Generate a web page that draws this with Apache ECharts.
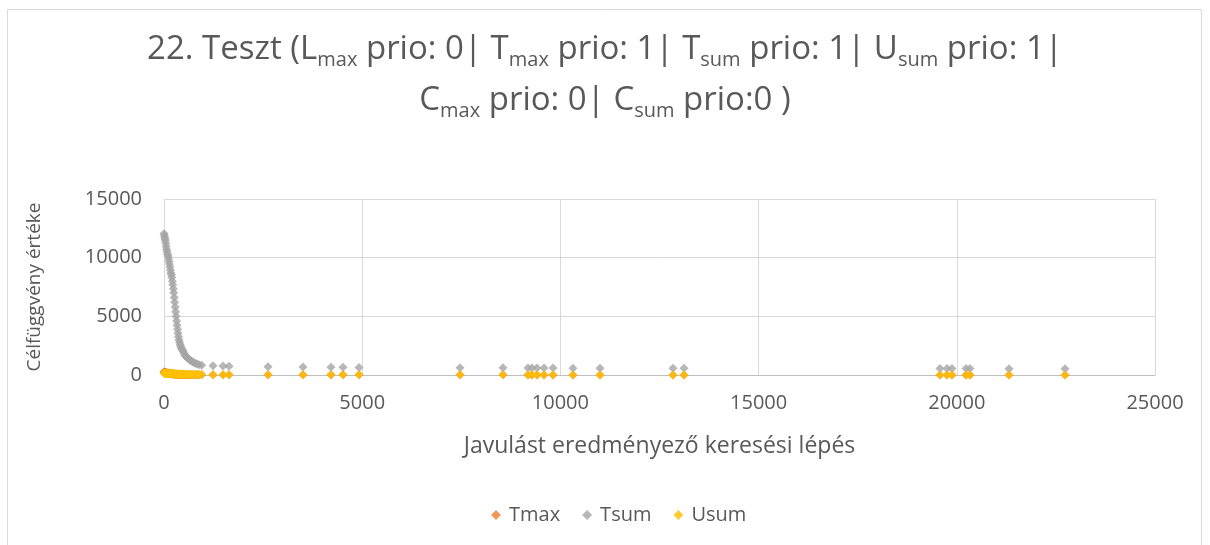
<!DOCTYPE html>
<html>
<head>
<meta charset="utf-8">
<script src="https://cdn.jsdelivr.net/npm/echarts@6/dist/echarts.min.js"></script>
<style>
html,body{margin:0;padding:0;background:#fff;}
#chart{width:1210px;height:545px;}
</style>
</head>
<body>
<div id="chart"></div>
<script>
// Improvement step indices (x)
var steps = [0, 8, 16, 25, 34, 44, 55, 66, 78, 90, 102, 114, 126, 138, 150, 162, 174, 186, 198, 210,
  222, 234, 246, 258, 270, 282, 294, 306, 318, 330, 342, 354, 366, 378, 392, 406, 420, 436, 452, 470,
  490, 512, 536, 562, 590, 620, 652, 686, 722, 760, 800, 842, 886, 951, 1236, 1488, 1640, 2624, 3507, 4213,
  4516, 4920, 7467, 8552, 9183, 9283, 9410, 9587, 9813, 10318, 10999, 12841, 13118, 19576, 19753, 19879, 20232, 20333,
  21317, 22730];

var tsum = [12050, 11900, 11750, 11600, 11450, 11200, 10950, 10700, 10500, 10300, 10150, 9950, 9700, 9450, 9200, 8950, 8700, 8550, 8300, 8000,
  7700, 7350, 7000, 6600, 6200, 5800, 5400, 5000, 4600, 4250, 3900, 3550, 3250, 3000, 2800, 2600, 2450, 2300, 2200, 2100,
  1950, 1800, 1650, 1550, 1450, 1380, 1280, 1200, 1120, 1050, 990, 930, 880, 830, 790, 770, 750, 700, 680, 660,
  650, 640, 620, 610, 600, 600, 595, 590, 590, 585, 580, 570, 565, 550, 550, 548, 545, 545,
  540, 540];

var usum = [150, 148, 145, 142, 140, 137, 134, 131, 128, 125, 122, 120, 118, 115, 112, 110, 108, 106, 104, 102,
  100, 98, 96, 94, 92, 90, 88, 86, 84, 82, 80, 78, 76, 74, 72, 70, 68, 66, 64, 62,
  60, 58, 56, 54, 52, 50, 48, 46, 44, 42, 40, 38, 36, 34, 30, 28, 26, 22, 20, 18,
  16, 15, 14, 13, 12, 12, 12, 11, 11, 10, 10, 10, 10, 9, 9, 9, 9, 9,
  8, 8];

var tmax = [260, 250, 240, 230, 220, 210, 200, 190, 180, 170, 160, 150, 140, 130, 120, 115, 110, 105, 100, 95,
  90, 85, 80, 76, 72, 68, 64, 60, 58, 56, 54, 52, 50, 48, 46, 44, 42, 40, 38, 36,
  34, 32, 30, 29, 28, 27, 26, 25, 24, 23, 22, 21, 20, 20, 18, 17, 16, 15, 14, 13,
  12, 12, 11, 11, 10, 10, 10, 10, 10, 9, 9, 9, 9, 8, 8, 8, 8, 8,
  8, 8];

var xTicks = [0, 5000, 10000, 15000, 20000, 25000];
var yTicks = [0, 5000, 10000, 15000];

function pairs(xs, ys) {
  var out = [];
  for (var i = 0; i < xs.length; i++) out.push([xs[i], ys[i]]);
  return out;
}

var chart = echarts.init(document.getElementById('chart'), null, {renderer: 'canvas'});
var FONT = '"Open Sans", "DejaVu Sans", sans-serif';
var labelColor = '#595959';

var subStyle = {fontSize: 20, fontFamily: FONT, fontWeight: 400, color: labelColor, padding: [22, 0, 0, 0]};
var normStyle = {fontSize: 33, fontFamily: FONT, fontWeight: 400, color: labelColor, lineHeight: 51};

var titleText =
  '{n|22. Teszt (L}{s|max}{n| prio: 0| T}{s|max}{n| prio: 1| T}{s|sum}{n| prio: 1| U}{s|sum}{n| prio: 1|}\n' +
  '{n|C}{s|max}{n| prio: 0| C}{s|sum}{n| prio:0 )}';

chart.setOption({
  animation: false,
  backgroundColor: '#ffffff',
  title: {
    text: titleText,
    left: 'center',
    top: 24,
    padding: 0,
    textStyle: {rich: {n: normStyle, s: subStyle}}
  },
  graphic: [{
    type: 'rect',
    shape: {x: 7.5, y: 9.5, width: 1194, height: 560},
    style: {fill: 'none', stroke: '#d9d9d9', lineWidth: 1},
    silent: true
  }],
  legend: {
    bottom: 15,
    left: 486,
    itemWidth: 10,
    itemHeight: 10,
    itemGap: 22,
    icon: 'diamond',
    textStyle: {fontSize: 20, fontFamily: FONT, color: labelColor, padding: [0, 0, 0, 3]},
    data: ['Tmax', 'Tsum', 'Usum']
  },
  grid: {left: 164, right: 55, top: 199, bottom: 170, containLabel: false},
  xAxis: {
    type: 'value',
    min: xTicks[0],
    max: xTicks[xTicks.length - 1],
    interval: 5000,
    name: 'Javulást eredményező keresési lépés',
    nameLocation: 'middle',
    nameGap: 60,
    nameTextStyle: {fontSize: 23, fontFamily: FONT, color: labelColor},
    axisLine: {show: true, lineStyle: {color: '#bfbfbf', width: 1}},
    axisTick: {show: false},
    axisLabel: {fontSize: 20, fontFamily: FONT, color: labelColor, margin: 18,
      formatter: function (v) { return String(v); }},
    splitLine: {show: true, lineStyle: {color: '#d9d9d9', width: 1}}
  },
  yAxis: {
    type: 'value',
    min: yTicks[0],
    max: yTicks[yTicks.length - 1],
    interval: 5000,
    name: 'Célfüggvény értéke',
    nameLocation: 'middle',
    nameGap: 120,
    nameTextStyle: {fontSize: 19, fontFamily: FONT, color: labelColor},
    axisLine: {show: false},
    axisTick: {show: false},
    axisLabel: {fontSize: 20, fontFamily: FONT, color: labelColor, margin: 22,
      formatter: function (v) { return String(v); }},
    splitLine: {show: true, lineStyle: {color: '#d9d9d9', width: 1}}
  },
  series: [
    {name: 'Tmax', type: 'scatter', symbol: 'diamond', symbolSize: 9,
     itemStyle: {color: '#ED7D31'}, data: pairs(steps, tmax)},
    {name: 'Tsum', type: 'scatter', symbol: 'diamond', symbolSize: 9,
     itemStyle: {color: '#A5A5A5'}, data: pairs(steps, tsum)},
    {name: 'Usum', type: 'scatter', symbol: 'diamond', symbolSize: 9,
     itemStyle: {color: '#FFC000'}, data: pairs(steps, usum)}
  ]
});
</script>
</body>
</html>
